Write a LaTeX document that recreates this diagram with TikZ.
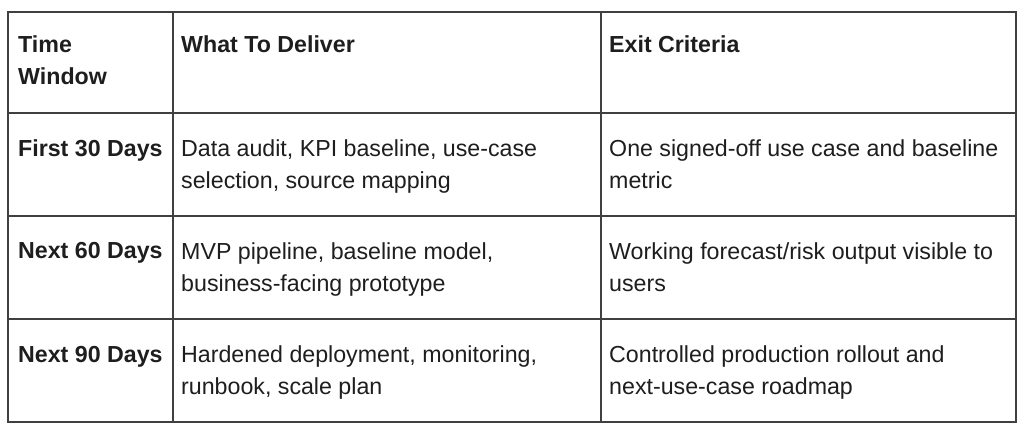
\documentclass[tikz,border=0pt]{standalone}
\usepackage{fontspec}
\setmainfont{Liberation Sans}
\usetikzlibrary{positioning}
\definecolor{ink}{HTML}{1E1E1E}
\tikzset{
  cell/.style={anchor=base west, inner sep=0pt, align=left, text=ink,
               font=\fontsize{23.2}{32}\selectfont},
  head/.style={cell, font=\fontsize{23.2}{32}\selectfont\bfseries},
  grid/.style={draw=ink!85, line width=1.3pt}
}
\begin{document}
\begin{tikzpicture}[x=1pt,y=-1pt]
  \useasboundingbox (0,0) rectangle (1024,435);
  \fill[white] (0,0) rectangle (1024,435);

  % table lines
  \draw[grid] (8,12) rectangle (1016,422);
  \draw[grid] (173,12) -- (173,422);
  \draw[grid] (601,12) -- (601,422);
  \draw[grid] (8,113) -- (1016,113);
  \draw[grid] (8,216) -- (1016,216);
  \draw[grid] (8,319) -- (1016,319);

  % header (base = last line)
  \node[head] (h1) at (18,85) {Time\\Window};
  \node[head] (h2) at (181,53) {What To Deliver};
  \node[head] (h3) at (609,53) {Exit Criteria};

  % rows
  \node[head] (r1) at (18,157) {First 30 Days};
  \node[cell] (d1) at (181,189) {Data audit, KPI baseline, use-case\\selection, source mapping};
  \node[cell] (e1) at (609,189) {One signed-off use case and baseline\\metric};

  \node[head] (r2) at (18,259) {Next 60 Days};
  \node[cell] (d2) at (181,291) {MVP pipeline, baseline model,\\business-facing prototype};
  \node[cell] (e2) at (609,291) {Working forecast/risk output visible to\\users};

  \node[head] (r3) at (18,362) {Next 90 Days};
  \node[cell] (d3) at (181,394) {Hardened deployment, monitoring,\\runbook, scale plan};
  \node[cell] (e3) at (609,394) {Controlled production rollout and\\next-use-case roadmap};
\end{tikzpicture}
\end{document}
